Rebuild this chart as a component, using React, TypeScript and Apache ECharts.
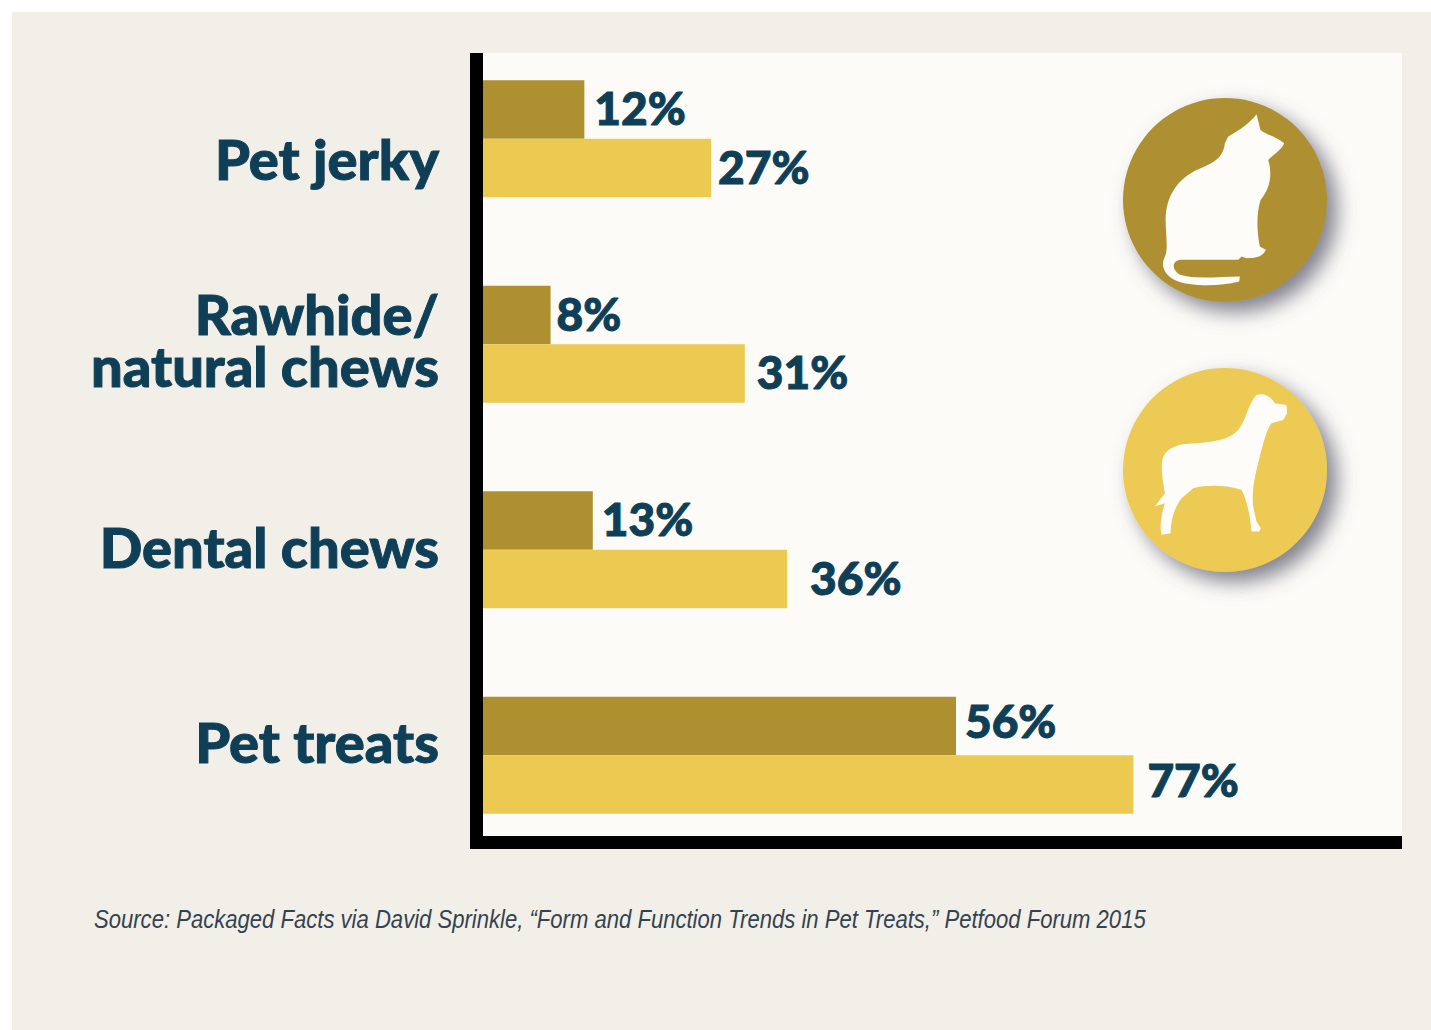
import React, { useEffect, useRef } from "react";
import * as echarts from "echarts";

const categories = ["Pet jerky", "Rawhide/\nnatural chews", "Dental chews", "Pet treats"];
const catValues = [12, 8, 13, 56];
const dogValues = [27, 31, 36, 77];
const catLabelGaps = [10, 6, 9, 9];
const dogLabelGaps = [7, 12, 23, 14];
const catLabelLifts = [2, 2, 2, 6];
const dogLabelLifts = [2, 2, 2, 5];
const sourceNote =
  "Source: Packaged Facts via David Sprinkle, \u201cForm and Function Trends in Pet Treats,\u201d Petfood Forum 2015";

const NAVY = "#0f3f57";
const CAT_GOLD = "#ae9030";
const DOG_YELLOW = "#ecca52";

// Vertical nudges for the category captions, which do not sit on the band centre.
const captionPadding: Record<string, number[]> = {
  "Pet jerky": [40, 0, 0, 0],
  "Rawhide/\nnatural chews": [0, 0, 10, 0],
  "Dental chews": [0, 0, 6, 0],
  "Pet treats": [0, 0, 28, 0],
};

const catPath =
  "M470 103 L482 150 C500 165 530 170 553 190 C545 210 520 225 505 240 C518 280 512 325 482 360 C470 400 470 450 480 500 L498 510 C490 530 470 535 440 535 L425 530 L415 540 L240 540 C215 545 215 570 240 585 C290 600 360 590 420 590 L418 605 C360 620 280 620 235 605 C195 590 180 560 195 530 C205 510 198 470 197 420 C198 350 230 300 290 270 C340 250 370 235 375 190 L385 170 C420 150 450 130 470 103 Z";
const dogPath =
  "M470 135 C490 130 510 135 525 160 L560 165 L562 190 L550 210 L515 220 C500 240 490 280 480 320 C465 380 455 420 460 470 L470 515 L483 535 L478 545 L455 545 C452 510 445 460 425 420 C380 405 320 405 280 415 L245 445 C225 470 212 510 212 550 L185 555 C178 530 185 490 195 460 L165 470 L195 430 C190 400 180 350 190 320 C205 290 240 280 290 280 C340 275 390 270 415 240 C440 210 445 160 470 135 Z";

echarts.graphic.registerShape("catIcon", echarts.graphic.extendPath(catPath, {}) as any);
echarts.graphic.registerShape("dogIcon", echarts.graphic.extendPath(dogPath, {}) as any);

const barLabel = {
  show: true,
  position: "right" as const,
  formatter: "{c}%",
  fontFamily: "Lato",
  fontWeight: 900,
  fontSize: 46,
  color: NAVY,
  textBorderColor: NAVY,
  textBorderWidth: 1,
};

function barData(values: number[], gaps: number[], lifts: number[]) {
  return values.map((value, i) => ({
    value,
    label: { distance: gaps[i], offset: [0, -lifts[i]] },
  }));
}

function badge(cx: number, cy: number, fill: string) {
  return {
    type: "circle",
    shape: { cx, cy, r: 102 },
    style: {
      fill,
      shadowBlur: 20,
      shadowOffsetX: 10,
      shadowOffsetY: 10,
      shadowColor: "rgba(90,90,105,0.75)",
    },
  };
}

export default function App() {
  const ref = useRef<HTMLDivElement>(null);

  useEffect(() => {
    const chart = echarts.init(ref.current!, undefined, { renderer: "svg" });
    const rich: Record<string, any> = {};
    categories.forEach((name, i) => {
      rich["c" + i] = {
        fontFamily: "Lato",
        fontWeight: 900,
        fontSize: 56,
        lineHeight: 52,
        color: NAVY,
        textBorderColor: NAVY,
        textBorderWidth: 1,
        align: "right",
        padding: captionPadding[name],
      };
    });

    chart.setOption({
      animation: false,
      backgroundColor: "#ffffff",
      grid: [
        // Bars and captions
        { left: 483, top: 36, width: 919, height: 822 },
        // Heavy black axes; square caps close the corner and reach the panel's edges
        { left: 476.5, top: 59.5, width: 919, height: 783, borderWidth: 0 },
      ],
      xAxis: [
        { gridIndex: 0, type: "value", min: 0, max: 108.8, show: false },
        {
          gridIndex: 1,
          type: "value",
          min: 0,
          max: 100,
          axisLine: { show: true, lineStyle: { color: "#000000", width: 13, cap: "square" } },
          axisTick: { show: false },
          axisLabel: { show: false },
          splitLine: { show: false },
        },
      ],
      yAxis: [
        {
          gridIndex: 0,
          type: "category",
          inverse: true,
          data: categories,
          axisLine: { show: false },
          axisTick: { show: false },
          axisLabel: {
            margin: 44,
            formatter: (value: string) => {
              const i = categories.indexOf(value);
              return value
                .split("\n")
                .map((line) => `{c${i}|${line}}`)
                .join("\n");
            },
            rich,
          },
        },
        {
          gridIndex: 1,
          type: "value",
          min: 0,
          max: 100,
          axisLine: { show: true, lineStyle: { color: "#000000", width: 13, cap: "square" } },
          axisTick: { show: false },
          axisLabel: { show: false },
          splitLine: { show: false },
        },
      ],
      series: [
        {
          type: "bar",
          name: "Cats",
          data: barData(catValues, catLabelGaps, catLabelLifts),
          xAxisIndex: 0,
          yAxisIndex: 0,
          barWidth: 58.5,
          barGap: "0%",
          itemStyle: { color: CAT_GOLD },
          label: barLabel,
        },
        {
          type: "bar",
          name: "Dogs",
          data: barData(dogValues, dogLabelGaps, dogLabelLifts),
          xAxisIndex: 0,
          yAxisIndex: 0,
          barWidth: 58.5,
          barGap: "0%",
          itemStyle: { color: DOG_YELLOW },
          label: barLabel,
        },
      ],
      graphic: [
        {
          type: "rect",
          z: -10,
          silent: true,
          shape: { x: 12, y: 12, width: 1419, height: 1018 },
          style: { fill: "#f2efe9" },
        },
        {
          type: "rect",
          z: -9,
          silent: true,
          shape: { x: 476, y: 53, width: 926, height: 790 },
          style: { fill: "#fcfbf8" },
        },
        { ...badge(1225, 200, CAT_GOLD), z: 5 },
        { type: "catIcon", x: 1100, y: 80, scaleX: 1 / 3, scaleY: 1 / 3, z: 6, style: { fill: "#fdfcf8" } },
        { ...badge(1225, 470, DOG_YELLOW), z: 5 },
        { type: "dogIcon", x: 1100, y: 350, scaleX: 1 / 3, scaleY: 1 / 3, z: 6, style: { fill: "#fdfcf8" } },
        {
          type: "text",
          x: 94,
          y: 920,
          z: 6,
          scaleX: 0.883,
          style: {
            text: sourceNote,
            fontFamily: "Liberation Sans",
            fontStyle: "italic",
            fontSize: 25,
            fill: "#33434f",
            textVerticalAlign: "middle",
          },
        },
      ],
    });
    return () => chart.dispose();
  }, []);

  return <div ref={ref} style={{ width: 1431, height: 1030, position: "absolute", left: 0, top: 0 }} />;
}
